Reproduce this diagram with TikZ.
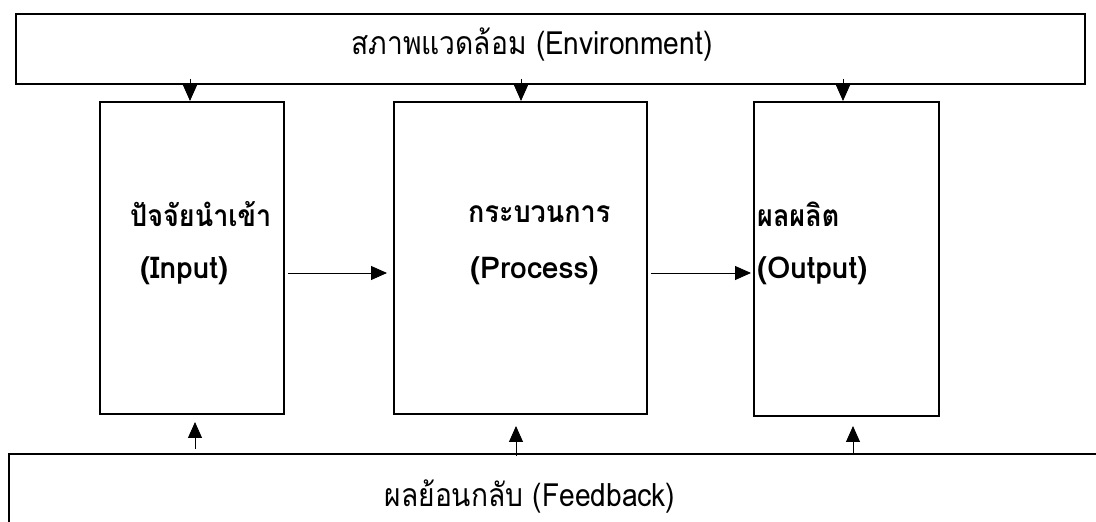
\documentclass[tikz,border=0pt]{standalone}
\usepackage{fontspec}
\usetikzlibrary{arrows.meta,calc}
\newfontfamily\thaifont[Script=Thai,FakeStretch=0.9]{Loma}
\newfontfamily\latfont{Loma}
\newfontfamily\thaicond[Script=Thai,FakeStretch=0.88]{Loma}
\begin{document}
\begin{tikzpicture}[x=1pt,y=1pt,
  bigbox/.style={draw,line width=2.4pt,rectangle,inner sep=0pt},
  stagebox/.style={draw,line width=2pt,rectangle,inner sep=0pt},
  arr/.style={line width=0.9pt,-{Triangle[length=16pt,width=14pt]}},
  cond/.style={font=\thaicond\fontsize{32}{36}\selectfont,inner sep=0pt},
  lbl/.style={font=\thaifont\bfseries\fontsize{30}{34}\selectfont,inner sep=0pt,anchor=west},
  lble/.style={font=\latfont\bfseries\fontsize{30}{34}\selectfont,inner sep=0pt,anchor=west}]
\useasboundingbox (0,0) rectangle (1096,522);
\begin{scope}
\clip (0,0) rectangle (1096,522);
% environment box
\node[bigbox,minimum width=1069pt,minimum height=70pt] (env) at (550.5,473) {};
\node[cond] (envtext) at (532,477) {สภาพแวดล้อม (Environment)};
% stage boxes
\node[stagebox,minimum width=184pt,minimum height=312pt] (in) at (192,264) {};
\node[stagebox,minimum width=253pt,minimum height=312pt] (proc) at (520.5,264) {};
\node[stagebox,minimum width=185pt,minimum height=314pt] (out) at (846.5,263) {};
% feedback box (runs off the page)
\node[bigbox,minimum width=1110pt,minimum height=120pt] (fb) at (564,8) {};
\node[cond] (fbtext) at (530,25) {ผลย้อนกลับ (Feedback)};
% labels
\node[lbl] (inth) at (130,308) {ปัจจัยนำเข้า};
\node[lble] (inen) at (140,251) {(Input)};
\node[lbl] (procth) at (468,308) {กระบวนการ};
\node[lble] (procen) at (470,251) {(Process)};
\node[lbl] (outth) at (757,308) {ผลผลิต};
\node[lble] (outen) at (757,251) {(Output)};
% environment -> stages
\draw[arr] ($(in.north)+(-2,22)$) -- ($(in.north)+(-2,0)$);
\draw[arr] ($(proc.north)+(0.5,22)$) -- ($(proc.north)+(0.5,0)$);
\draw[arr] ($(out.north)+(-3.5,22)$) -- ($(out.north)+(-3.5,0)$);
% flow
\draw[arr,shorten <=3pt,shorten >=6pt] (in.east |- 0,249) -- (proc.west |- 0,249);
\draw[arr,shorten <=3pt,shorten >=2pt] (proc.east |- 0,249) -- (out.west |- 0,249);
% feedback -> stages
\draw[arr] ($(in.south)+(3,-34)$) -- ($(in.south)+(3,-7)$);
\draw[arr] ($(proc.south)+(-4.5,-41)$) -- ($(proc.south)+(-4.5,-11)$);
\draw[arr] ($(out.south)+(6.5,-37)$) -- ($(out.south)+(6.5,-9)$);
\end{scope}
\end{tikzpicture}
\end{document}
